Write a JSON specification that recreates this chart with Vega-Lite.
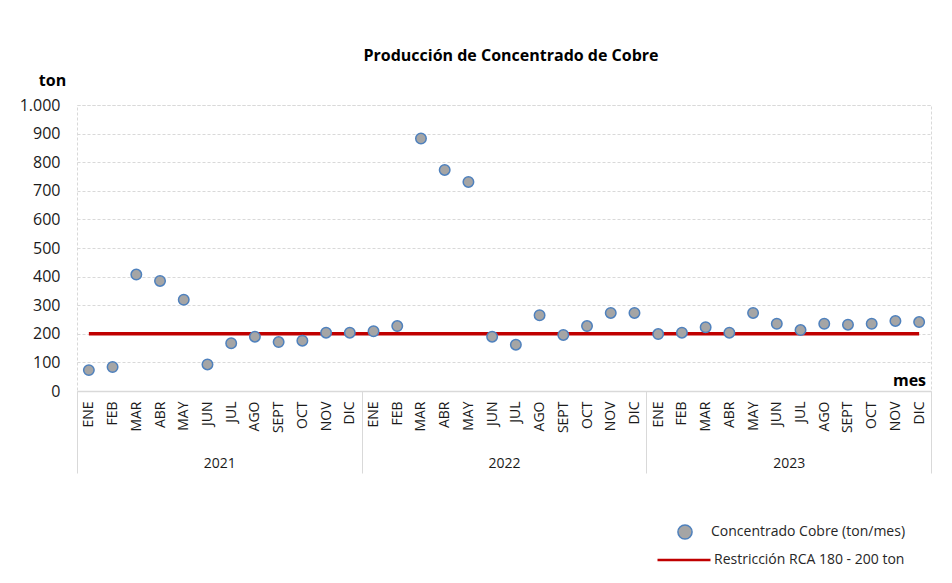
{
  "$schema": "https://vega.github.io/schema/vega-lite/v6.json",
  "width": 854,
  "height": 286,
  "autosize": {"type": "none"},
  "padding": {"left": 77, "top": 105, "right": 21, "bottom": 192},
  "background": "white",
  "title": {
    "text": "Producción de Concentrado de Cobre",
    "font": "Open Sans",
    "fontSize": 16,
    "fontWeight": "bold",
    "color": "#000000",
    "anchor": "middle",
    "dx": 7,
    "offset": 8
  },
  "data": {
    "values": [
      {"key": "ENE|2021", "anio": "2021", "valor": 73, "restr": 200},
      {"key": "FEB|2021", "anio": "2021", "valor": 84, "restr": 200},
      {"key": "MAR|2021", "anio": "2021", "valor": 407, "restr": 200},
      {"key": "ABR|2021", "anio": "2021", "valor": 385, "restr": 200},
      {"key": "MAY|2021", "anio": "2021", "valor": 319, "restr": 200},
      {"key": "JUN|2021", "anio": "2021", "valor": 93, "restr": 200},
      {"key": "JUL|2021", "anio": "2021", "valor": 167, "restr": 200},
      {"key": "AGO|2021", "anio": "2021", "valor": 190, "restr": 200},
      {"key": "SEPT|2021", "anio": "2021", "valor": 171, "restr": 200},
      {"key": "OCT|2021", "anio": "2021", "valor": 176, "restr": 200},
      {"key": "NOV|2021", "anio": "2021", "valor": 204, "restr": 200},
      {"key": "DIC|2021", "anio": "2021", "valor": 204, "restr": 200},
      {"key": "ENE|2022", "anio": "2022", "valor": 209, "restr": 200},
      {"key": "FEB|2022", "anio": "2022", "valor": 227, "restr": 200},
      {"key": "MAR|2022", "anio": "2022", "valor": 883, "restr": 200},
      {"key": "ABR|2022", "anio": "2022", "valor": 773, "restr": 200},
      {"key": "MAY|2022", "anio": "2022", "valor": 731, "restr": 200},
      {"key": "JUN|2022", "anio": "2022", "valor": 190, "restr": 200},
      {"key": "JUL|2022", "anio": "2022", "valor": 162, "restr": 200},
      {"key": "AGO|2022", "anio": "2022", "valor": 265, "restr": 200},
      {"key": "SEPT|2022", "anio": "2022", "valor": 196, "restr": 200},
      {"key": "OCT|2022", "anio": "2022", "valor": 227, "restr": 200},
      {"key": "NOV|2022", "anio": "2022", "valor": 273, "restr": 200},
      {"key": "DIC|2022", "anio": "2022", "valor": 273, "restr": 200},
      {"key": "ENE|2023", "anio": "2023", "valor": 199, "restr": 200},
      {"key": "FEB|2023", "anio": "2023", "valor": 204, "restr": 200},
      {"key": "MAR|2023", "anio": "2023", "valor": 223, "restr": 200},
      {"key": "ABR|2023", "anio": "2023", "valor": 204, "restr": 200},
      {"key": "MAY|2023", "anio": "2023", "valor": 273, "restr": 200},
      {"key": "JUN|2023", "anio": "2023", "valor": 235, "restr": 200},
      {"key": "JUL|2023", "anio": "2023", "valor": 213, "restr": 200},
      {"key": "AGO|2023", "anio": "2023", "valor": 235, "restr": 200},
      {"key": "SEPT|2023", "anio": "2023", "valor": 232, "restr": 200},
      {"key": "OCT|2023", "anio": "2023", "valor": 235, "restr": 200},
      {"key": "NOV|2023", "anio": "2023", "valor": 245, "restr": 200},
      {"key": "DIC|2023", "anio": "2023", "valor": 241, "restr": 200}
    ]
  },
  "layer": [
    {
      "encoding": {
        "x": {
          "field": "key",
          "type": "ordinal",
          "sort": null,
          "axis": {
            "orient": "bottom",
            "labelExpr": "split(datum.value, '|')[0]",
            "labelAngle": -90,
            "labelFontSize": 14,
            "labelPadding": 10,
            "ticks": false,
            "grid": false,
            "domainColor": "#d9d9d9",
            "domainWidth": 1.5,
            "title": "mes",
            "titleFont": "Open Sans",
            "titleFontSize": 16,
            "titleFontWeight": "bold",
            "titleColor": "#000000",
            "titleX": 832,
            "titleY": -11,
            "titleAlign": "center",
            "titleBaseline": "middle",
            "titleAngle": 0
          }
        }
      },
      "layer": [
        {
          "mark": {"type": "line", "strokeWidth": 3.5},
          "encoding": {
            "y": {
              "field": "restr",
              "type": "quantitative",
              "scale": {"domain": [0, 1000]},
              "axis": {
                "values": [0, 100, 200, 300, 400, 500, 600, 700, 800, 900, 1000],
                "labelExpr": "replace(format(datum.value, ','), ',', '.')",
                "labelFontSize": 16,
                "labelPadding": 17,
                "ticks": false,
                "domain": false,
                "grid": true,
                "gridColor": "#d9d9d9",
                "gridDash": [3, 2],
                "gridWidth": 1,
                "title": "ton",
                "titleFont": "Open Sans",
                "titleFontSize": 16,
                "titleFontWeight": "bold",
                "titleColor": "#000000",
                "titleAngle": 0,
                "titleX": -25,
                "titleY": -25,
                "titleAlign": "center",
                "titleBaseline": "middle"
              }
            },
            "stroke": {
              "datum": "Restricción RCA 180 - 200 ton",
              "type": "nominal",
              "scale": {"range": ["#c00000"]},
              "legend": {
                "title": null,
                "orient": "none",
                "legendX": 579,
                "legendY": 427,
                "symbolType": "stroke",
                "symbolSize": 2809,
                "symbolStrokeWidth": 2.5,
                "labelFont": "Open Sans",
                "labelFontSize": 14,
                "labelColor": "#262626",
                "labelOffset": 2,
                "labelLimit": 0
              }
            }
          }
        },
        {
          "mark": {"type": "point", "filled": true, "size": 110, "stroke": "#4f81bd", "strokeWidth": 1.5, "opacity": 1},
          "encoding": {
            "y": {
              "field": "valor",
              "type": "quantitative",
              "scale": {"domain": [0, 1000]},
              "axis": {
                "values": [0, 100, 200, 300, 400, 500, 600, 700, 800, 900, 1000],
                "labelExpr": "replace(format(datum.value, ','), ',', '.')",
                "labelFontSize": 16,
                "labelPadding": 17,
                "ticks": false,
                "domain": false,
                "grid": true,
                "gridColor": "#d9d9d9",
                "gridDash": [3, 2],
                "gridWidth": 1,
                "title": "ton",
                "titleFont": "Open Sans",
                "titleFontSize": 16,
                "titleFontWeight": "bold",
                "titleColor": "#000000",
                "titleAngle": 0,
                "titleX": -25,
                "titleY": -25,
                "titleAlign": "center",
                "titleBaseline": "middle"
              }
            },
            "fill": {
              "datum": "Concentrado Cobre (ton/mes)",
              "type": "nominal",
              "scale": {"range": ["#a5a5a5"]},
              "legend": {
                "title": null,
                "orient": "none",
                "legendX": 600,
                "legendY": 419,
                "symbolType": "circle",
                "symbolSize": 200,
                "symbolStrokeColor": "#4f81bd",
                "symbolStrokeWidth": 1.5,
                "labelFont": "Open Sans",
                "labelFontSize": 14,
                "labelColor": "#262626",
                "labelOffset": 18,
                "labelLimit": 0
              }
            }
          }
        }
      ]
    },
    {
      "mark": {"type": "point", "opacity": 0},
      "encoding": {
        "x": {
          "field": "anio",
          "type": "ordinal",
          "scale": {"type": "band", "paddingInner": 0, "paddingOuter": 0},
          "axis": {
            "orient": "bottom",
            "domain": false,
            "grid": false,
            "ticks": true,
            "tickBand": "extent",
            "tickSize": 82,
            "tickColor": "#d9d9d9",
            "tickWidth": 1,
            "labelAngle": 0,
            "labelFontSize": 14,
            "labelPadding": -10,
            "labelBaseline": "middle",
            "title": null
          }
        }
      }
    }
  ],
  "resolve": {"scale": {"x": "independent"}, "axis": {"x": "independent"}},
  "config": {
    "font": "Open Sans",
    "view": {"stroke": "#d9d9d9", "strokeDash": [3, 2]},
    "axis": {"labelFont": "Open Sans", "labelColor": "#1a1a1a"},
    "legend": {"padding": 0}
  }
}
